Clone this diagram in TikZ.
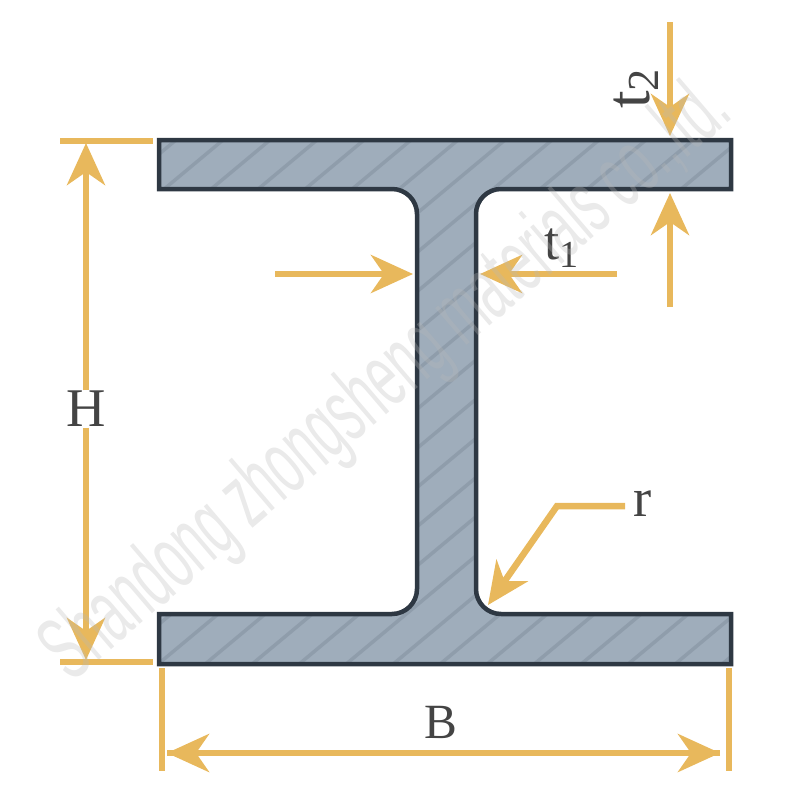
\documentclass[tikz,border=0pt]{standalone}
\usepackage{fontspec}
\setmainfont{Liberation Serif}
\newfontfamily\markfont{Liberation Sans}
\usetikzlibrary{arrows.meta}
\definecolor{dimyellow}{HTML}{E8B85C}
\definecolor{steelfill}{HTML}{9FADBB}
\definecolor{steelhatch}{HTML}{8C99A8}
\definecolor{steeledge}{HTML}{2E3843}
\definecolor{labelgray}{HTML}{444444}
\definecolor{markgray}{HTML}{B8B8B8}
\tikzset{dimline/.style = {draw=dimyellow,line width=.065cm}}
\tikzset{dimarrow/.style = {dimline,-{Stealth[length=.42cm,width=.38cm,inset=.13cm]}}}
\tikzset{dimlabel/.style = {text=labelgray,inner sep=0pt,font=\fontsize{15.5}{15.5}\selectfont}}
\newcommand{\beampath}{(159,140) -- (731,140) -- (731,189) [rounded corners=.25cm] -- (476,189) -- (476,614) [sharp corners] -- (731,614) -- (731,664) -- (159,664) -- (159,614) [rounded corners=.25cm] -- (417,614) -- (417,189) [sharp corners] -- (159,189) -- cycle}

\begin{document}
\begin{tikzpicture}[x=.01cm,y=-.01cm]
    \useasboundingbox (0,0) rectangle (800,800);

    % Section
    \fill[steelfill] \beampath;
    \begin{scope}
        \clip \beampath;
        \foreach \x in {0,47,...,1400}
            \draw[steelhatch,opacity=.8,line width=.035cm] (\x,130) -- (\x-660,680);
    \end{scope}
    \draw[steeledge,line width=.045cm,line join=miter] \beampath;

    % Labels
    \node[dimlabel] (h) at (86,409) {H};
    \node[dimlabel,font=\fontsize{14}{14}\selectfont] (b) at (441,722) {B};
    \node[dimlabel] (r) at (643,504) {r};
    \node[dimlabel] (tone) at (562,248) {t\textsubscript{1}};
    \node[dimlabel,rotate=90,font=\fontsize{18}{18}\selectfont] (ttwo) at (636,88) {t\textsubscript{2}};

    % Ends
    \coordinate (htopa) at (60,141);
    \coordinate (htopb) at (153,141);
    \coordinate (hbota) at (60,662);
    \coordinate (hbotb) at (153,662);
    \coordinate (htip) at (86,143);
    \coordinate (htipb) at (86,660);
    \coordinate (bleft) at (162,668);
    \coordinate (bleftb) at (162,771);
    \coordinate (bright) at (729,668);
    \coordinate (brightb) at (729,771);
    \coordinate (btipa) at (167,753);
    \coordinate (btipb) at (720,753);
    \coordinate (twotop) at (670,22);
    \coordinate (twotipa) at (670,136);
    \coordinate (twobot) at (670,307);
    \coordinate (twotipb) at (670,193);
    \coordinate (onestart) at (275,274);
    \coordinate (onetipa) at (413,274);
    \coordinate (oneend) at (617,274);
    \coordinate (onetipb) at (480,274);
    \coordinate (rstart) at (625,506);
    \coordinate (rbend) at (557,506);
    \coordinate (rtip) at (488,605);

    % Dimensions
    \draw[dimline] (htopa) -- (htopb);
    \draw[dimline] (hbota) -- (hbotb);
    \draw[dimline] (bleft) -- (bleftb);
    \draw[dimline] (bright) -- (brightb);
    \draw[dimarrow] (h.north) -- (htip);
    \draw[dimarrow] (h.south) -- (htipb);
    \draw[dimarrow] (btipb) -- (btipa);
    \draw[dimarrow] (btipa) -- (btipb);
    \draw[dimarrow] (twotop) -- (twotipa);
    \draw[dimarrow] (twobot) -- (twotipb);
    \draw[dimarrow] (onestart) -- (onetipa);
    \draw[dimarrow] (oneend) -- (onetipb);
    \draw[dimarrow,line join=miter] (rstart) -- (rbend) -- (rtip);

    % Watermark
    \node[text=markgray,opacity=.3,inner sep=0pt,rotate=40.5,xscale=.535,font=\markfont\fontsize{26}{26}\selectfont] (mark) at (388,382) {Shandong zhongsheng materials co.,ltd.};
\end{tikzpicture}
\end{document}
